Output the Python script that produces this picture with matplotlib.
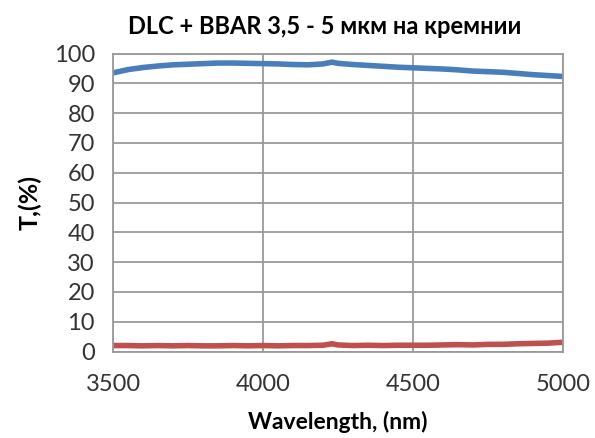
import matplotlib.pyplot as plt

# Datos
wavelength = [3500, 3550, 3600, 3650, 3700, 3750, 3800, 3850, 3900, 3950,
              4000, 4050, 4100, 4150, 4200, 4230, 4250, 4300, 4350, 4400,
              4450, 4500, 4550, 4600, 4650, 4700, 4750, 4800, 4850, 4900,
              4950, 5000]
t_dlc_bbar = [93.5, 94.6, 95.3, 95.8, 96.2, 96.4, 96.6, 96.8, 96.8, 96.7,
              96.6, 96.5, 96.3, 96.2, 96.5, 97.1, 96.7, 96.3, 96.0, 95.7,
              95.4, 95.2, 95.0, 94.8, 94.5, 94.1, 93.9, 93.7, 93.3, 92.9,
              92.6, 92.3]
t_low = [2.0, 2.0, 1.9, 2.0, 1.9, 2.0, 1.9, 1.9, 2.0, 1.9,
         2.0, 1.9, 2.0, 2.0, 2.1, 2.6, 2.2, 2.0, 2.1, 2.0,
         2.1, 2.1, 2.1, 2.2, 2.3, 2.2, 2.4, 2.4, 2.6, 2.7,
         2.8, 3.1]

x_ticks = [3500, 4000, 4500, 5000]
y_ticks = list(range(0, 101, 10))

plt.rcParams['font.family'] = ['Lato', 'DejaVu Sans']

fig = plt.figure(figsize=(5.95, 4.38), dpi=100)
ax = fig.add_axes([113 / 595, 1 - 351.5 / 438, 450 / 595, 298 / 438])

ax.plot(wavelength, t_dlc_bbar, color='#4A7EBB', linewidth=4)
ax.plot(wavelength, t_low, color='#C0504D', linewidth=4)

ax.set_xlim(3500, 5000)
ax.set_ylim(0, 100)
ax.set_xticks(x_ticks)
ax.set_yticks(y_ticks)
ax.grid(True, color='#9A9A9A', linewidth=1.3)
ax.set_axisbelow(True)
for s in ax.spines.values():
    s.set_color('#9A9A9A')
    s.set_linewidth(1.3)
ax.tick_params(length=0, labelsize=17, colors='#333333', pad=13)
ax.tick_params(axis='x', pad=16)

ax.set_title('DLC + BBAR 3,5 - 5 мкм на кремнии', fontsize=17,
             fontweight='bold', pad=14, x=0.47)
ax.set_xlabel('Wavelength, (nm)', fontsize=16.5, fontweight='bold', labelpad=12)
ax.set_ylabel('T,(%)', fontsize=18, fontweight='bold', labelpad=9)

plt.savefig('out.png', dpi=100)
